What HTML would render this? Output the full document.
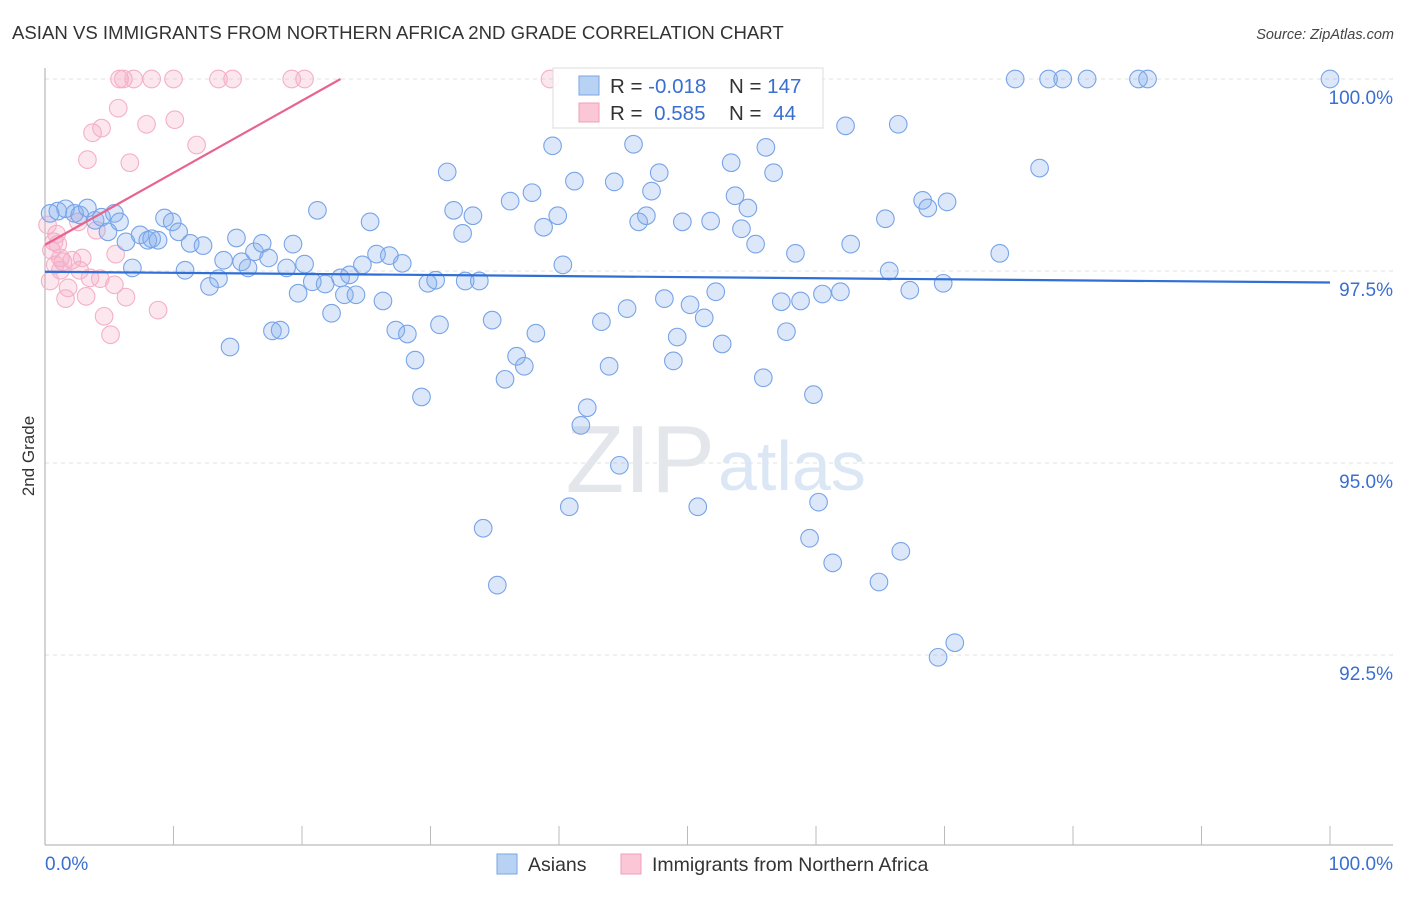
<!DOCTYPE html>
<html><head><meta charset="utf-8"><style>
body{margin:0;background:#fff;font-family:"Liberation Sans",sans-serif;}
svg text{font-family:"Liberation Sans",sans-serif;}
</style></head><body>
<svg id="chart" width="1406" height="892" xmlns="http://www.w3.org/2000/svg">
<text x="12" y="39" font-size="18.6" fill="#333">ASIAN VS IMMIGRANTS FROM NORTHERN AFRICA 2ND GRADE CORRELATION CHART</text>
<text x="1394" y="39" font-size="14.5" fill="#444" font-style="italic" text-anchor="end">Source: ZipAtlas.com</text>
<text transform="translate(34,456) rotate(-90)" font-size="17" fill="#333" text-anchor="middle">2nd Grade</text>
<g id="grid"></g>
<g id="axes"></g>
<text x="715" y="492" font-size="96" fill="#e3e7ec" text-anchor="end" font-family="Liberation Serif,serif">ZIP</text>
<text x="718" y="490" font-size="70" fill="#dbe7f5">atlas</text>
<g id="pink"></g>
<g id="blue"></g>
<g id="trends"></g>
<g>
<rect x="553" y="68" width="270" height="60" fill="#fff" fill-opacity="0.9" stroke="#ddd"/>
<rect x="579" y="76" width="20" height="19" fill="#b8d2f4" stroke="#7aa6e6"/>
<rect x="579" y="103" width="20" height="19" fill="#fbc6d5" stroke="#f0a0b8"/>
<text x="610" y="93" font-size="20.5" fill="#333">R = <tspan fill="#3a6fd0">-0.018</tspan></text>
<text x="729" y="93" font-size="20.5" fill="#333">N = <tspan fill="#3a6fd0">147</tspan></text>
<text x="610" y="120" font-size="20.5" fill="#333">R = <tspan fill="#3a6fd0" dx="6">0.585</tspan></text>
<text x="729" y="120" font-size="20.5" fill="#333">N = <tspan fill="#3a6fd0" dx="6">44</tspan></text>
</g>
<g>
<rect x="497" y="854" width="20" height="20" fill="#b8d2f4" stroke="#7aa6e6"/>
<text x="528" y="871" font-size="19.5" fill="#333">Asians</text>
<rect x="621" y="854" width="20" height="20" fill="#fbc6d5" stroke="#f0a0b8"/>
<text x="652" y="871" font-size="19.5" fill="#333">Immigrants from Northern Africa</text>
</g>
</svg>
<script>
const yTicks=[100,97.5,95,92.5];
const yTickLabels=["100.0%","97.5%","95.0%","92.5%"];
const xTickLabels=["0.0%","100.0%"];
const blueX=[0.4,1.0,1.6,2.3,2.7,3.3,3.9,4.4,4.9,5.4,5.8,6.3,6.8,7.4,8.0,8.3,8.8,9.3,9.9,10.4,10.9,11.3,12.3,12.8,13.5,13.9,14.4,14.9,15.3,15.8,16.3,16.9,17.4,17.7,18.3,18.8,19.3,19.7,20.2,20.8,21.2,21.8,22.3,23.0,23.3,23.7,24.2,24.7,25.3,25.8,26.3,26.8,27.3,27.8,28.2,28.8,29.3,29.8,30.4,30.7,31.3,31.8,32.5,32.7,33.3,33.8,34.1,34.8,35.2,35.8,36.2,36.7,37.3,37.9,38.2,38.8,39.5,39.9,40.3,40.8,41.2,41.7,42.2,43.3,43.9,44.3,44.7,45.3,45.8,46.2,46.8,47.2,47.8,48.2,48.9,49.2,49.6,50.2,50.8,51.3,51.8,52.2,52.7,53.4,53.7,54.2,54.7,55.3,55.9,56.1,56.7,57.3,57.7,58.4,58.8,59.5,59.8,60.2,60.5,61.3,61.9,62.3,62.7,64.9,65.4,65.7,66.4,66.6,67.3,68.3,68.7,69.5,69.9,70.2,70.8,74.3,75.5,77.4,78.1,79.2,81.1,85.1,85.8,100];
const blueY=[98.25,98.28,98.31,98.25,98.23,98.32,98.16,98.20,98.01,98.25,98.14,97.88,97.54,97.97,97.90,97.92,97.90,98.19,98.14,98.01,97.51,97.86,97.83,97.30,97.40,97.64,96.51,97.93,97.62,97.54,97.75,97.86,97.67,96.72,96.73,97.54,97.85,97.21,97.59,97.36,98.29,97.33,96.95,97.41,97.19,97.45,97.19,97.58,98.14,97.72,97.11,97.70,96.73,97.60,96.68,96.34,95.86,97.34,97.38,96.80,98.79,98.29,97.99,97.37,98.22,97.37,94.15,96.86,93.41,96.09,98.41,96.39,96.26,98.52,96.69,98.07,99.13,98.22,97.58,94.43,98.67,95.49,95.72,96.84,96.26,98.66,94.97,97.01,99.15,98.14,98.22,98.54,98.78,97.14,96.33,96.64,98.14,97.06,94.43,96.89,98.15,97.23,96.55,98.91,98.48,98.05,98.32,97.85,96.11,99.11,98.78,97.10,96.71,97.73,97.11,94.02,95.89,94.49,97.20,93.70,97.23,99.39,97.85,93.45,98.18,97.50,99.41,93.85,97.25,98.42,98.32,92.47,97.34,98.40,92.66,97.73,100,98.84,100,100,100,100,100,100];
const pinkX=[0.4,0.5,0.7,0.9,1.0,1.2,1.4,1.6,1.8,2.1,2.6,2.7,2.9,3.2,3.3,3.5,3.7,4.0,4.3,4.4,4.6,5.1,5.4,5.5,5.7,5.8,6.1,6.3,6.6,6.9,7.9,8.3,8.8,10.0,10.1,11.8,13.5,14.6,19.2,20.2,39.3,0.2,0.8,1.2];
const pinkY=[97.37,97.77,97.88,97.98,97.85,97.67,97.62,97.14,97.28,97.64,98.14,97.51,97.67,97.17,98.95,97.41,99.30,98.03,97.40,99.36,96.91,96.67,97.32,97.72,99.62,100,100,97.16,98.91,100,99.41,100,96.99,100,99.47,99.14,100,100,100,100,100,98.10,97.58,97.51];
const blueTrend=[97.49,97.35];
const pinkTrend=[97.84,100,23];
const NS="http://www.w3.org/2000/svg";
function sx(v){return 45+v*12.85;}
function sy(v){return 79+(100-v)*76.8;}
function mk(tag,attrs,parent){const e=document.createElementNS(NS,tag);for(const k in attrs)e.setAttribute(k,attrs[k]);parent.appendChild(e);return e;}
const grid=document.getElementById('grid'),axes=document.getElementById('axes');
yTicks.forEach((t,i)=>{
 const l=mk('line',{x1:45,x2:1393,y1:sy(t),y2:sy(t),stroke:'#e0e0e0','stroke-dasharray':'4,4'},grid);
 
 
 const tx=mk('text',{x:1393,y:sy(t)+25,'font-size':19,fill:'#3a6fd0','text-anchor':'end'},axes);
 tx.textContent=yTickLabels[i];
 
 
});
mk('line',{x1:45,x2:45,y1:68,y2:845,stroke:'#aaa'},axes);
mk('line',{x1:45,x2:1393,y1:845,y2:845,stroke:'#aaa'},axes);
for(let i=1;i<=10;i++){
 const t=mk('line',{x1:sx(i*10),x2:sx(i*10),y1:826,y2:845,stroke:'#bbb'},axes);
 
 
}
const xl0=mk('text',{x:45,y:870,'font-size':19,fill:'#3a6fd0'},axes);
xl0.textContent=xTickLabels[0];


const xl1=mk('text',{x:1393,y:870,'font-size':19,fill:'#3a6fd0','text-anchor':'end'},axes);
xl1.textContent=xTickLabels[1];


const pg=document.getElementById('pink'),bg=document.getElementById('blue');
pinkX.forEach((x,i)=>{
 const c=mk('circle',{cx:sx(x),cy:sy(pinkY[i]),r:8.8,fill:'rgba(246,170,196,0.28)',stroke:'#f4b0c6','stroke-width':1.1},pg);
 
 
});
blueX.forEach((x,i)=>{
 const c=mk('circle',{cx:sx(x),cy:sy(blueY[i]),r:8.8,fill:'rgba(130,172,236,0.28)',stroke:'#78a4e8','stroke-width':1.1},bg);
 
 
});
const tg=document.getElementById('trends');
const bt=mk('line',{x1:sx(0),y1:sy(blueTrend[0]),x2:sx(100),y2:sy(blueTrend[1]),stroke:'#2f6fd6','stroke-width':2.2},tg);


const pt=mk('line',{x1:sx(0),y1:sy(pinkTrend[0]),x2:sx(pinkTrend[2]),y2:sy(pinkTrend[1]),stroke:'#e8648e','stroke-width':2.2},tg);


</script>
</body></html>
